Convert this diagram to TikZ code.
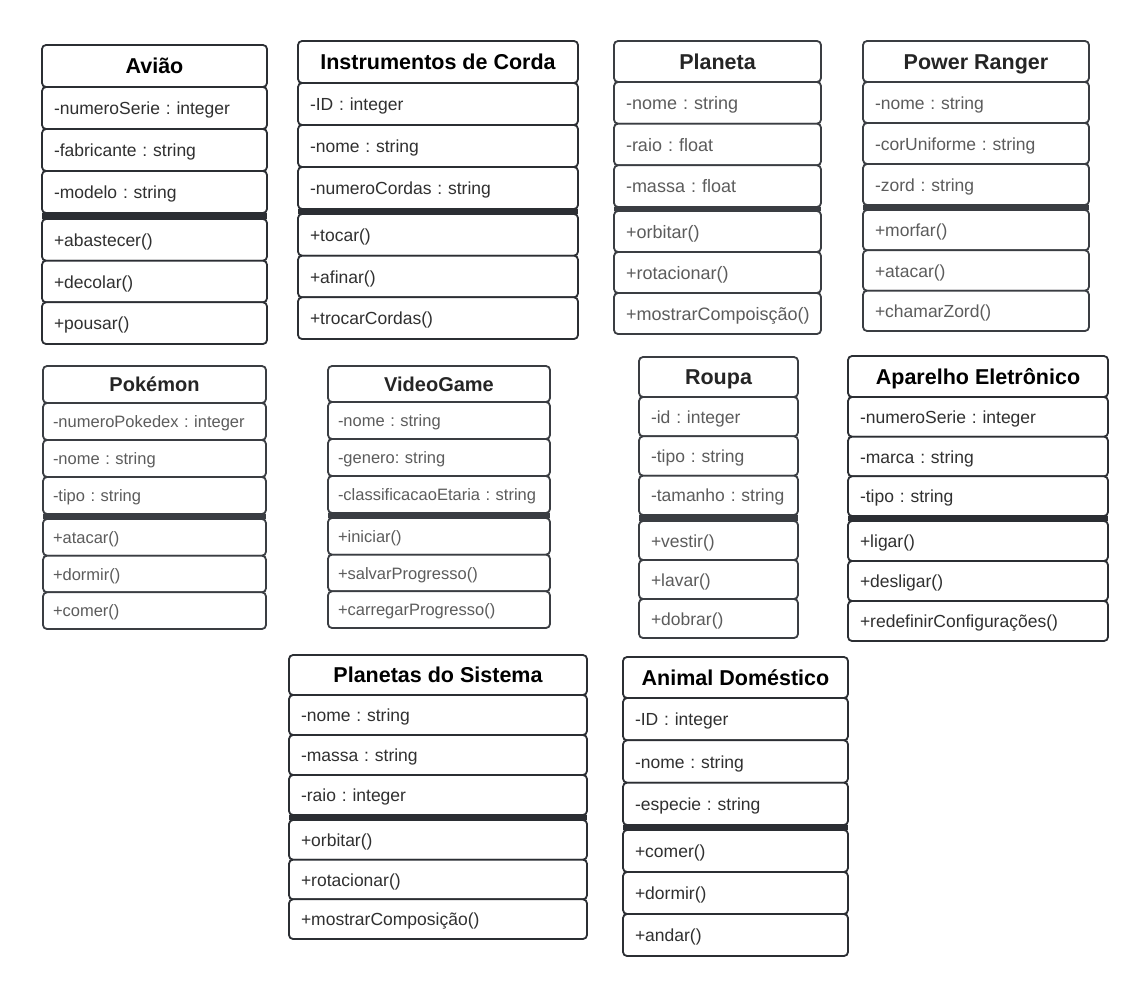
\documentclass[tikz,border=0pt]{standalone}
\usepackage{fontspec}
\setmainfont{Liberation Sans}
\frenchspacing
\definecolor{linecol}{HTML}{2B2E33}
\definecolor{softline}{HTML}{3A3D42}
\definecolor{titlecol}{HTML}{000000}
\definecolor{bodycol}{HTML}{303030}
\definecolor{softtitle}{HTML}{252525}
\definecolor{softbody}{HTML}{5C5C5C}
\def\uxsep{12}
\def\umlgeo#1,#2,#3,#4,#5,#6,#7\relax{\def\uxa{#1}\def\uxb{#2}\def\uya{#3}\def\uyb{#4}\def\uyc{#5}\def\uyd{#6}\def\uye{#7}}
\newcommand\umlbox[9]{%
  \umlgeo#2\relax
  \pgfmathsetmacro\uw{\uxb-\uxa}%
  \pgfmathsetmacro\uht{\uyb-\uya}%
  \pgfmathsetmacro\uhr{(\uyc-\uyb)/3}%
  \pgfmathsetmacro\uhm{(\uye-\uyd)/3}%
  \pgfmathsetmacro\utw{\uw-2*\uxsep}%
  \node[titlecell, minimum width=\uw pt, minimum height=\uht pt] (#1-t) at (\uxa,\uya) {#3};
  \node[bodycell, minimum width=\uw pt, minimum height=\uhr pt, text width=\utw pt, inner xsep=\uxsep pt] (#1-a1) at (\uxa,\uyb) {\mbox{#4}};
  \node[bodycell, minimum width=\uw pt, minimum height=\uhr pt, text width=\utw pt, inner xsep=\uxsep pt] (#1-a2) at ({\uxa},{\uyb+\uhr}) {\mbox{#5}};
  \node[bodycell, minimum width=\uw pt, minimum height=\uhr pt, text width=\utw pt, inner xsep=\uxsep pt] (#1-a3) at ({\uxa},{\uyb+2*\uhr}) {\mbox{#6}};
  \node[bodycell, minimum width=\uw pt, minimum height=\uhm pt, text width=\utw pt, inner xsep=\uxsep pt] (#1-m1) at (\uxa,\uyd) {\mbox{#7}};
  \node[bodycell, minimum width=\uw pt, minimum height=\uhm pt, text width=\utw pt, inner xsep=\uxsep pt] (#1-m2) at ({\uxa},{\uyd+\uhm}) {\mbox{#8}};
  \node[bodycell, minimum width=\uw pt, minimum height=\uhm pt, text width=\utw pt, inner xsep=\uxsep pt] (#1-m3) at ({\uxa},{\uyd+2*\uhm}) {\mbox{#9}};
  \fill[sepcol] (#1-a3.south west) rectangle (#1-m1.north east);
}
\tikzset{
  classrow/.style={rectangle, draw=linecol, line width=1.8pt, rounded corners=4pt, fill=white,
    anchor=north west, inner ysep=0pt, outer sep=0pt},
  titlecell/.style={classrow, font=\fontsize{21.5}{24}\selectfont\bfseries, text=titlecol, align=center,
    text height=20pt, text depth=4.5pt},
  bodycell/.style={classrow, font=\fontsize{17.5}{20}\selectfont, text=bodycol, align=left,
    text height=17pt, text depth=4pt},
  sepcol/.style={fill=linecol},
  soft/.style={
    classrow/.append style={draw=softline},
    titlecell/.append style={text=softtitle},
    bodycell/.append style={text=softbody},
    sepcol/.style={fill=softline}},
}
\begin{document}
\begin{tikzpicture}[x=1pt,y=-1pt]
\path[use as bounding box, fill=white] (0,0) rectangle (1148,996);

\umlbox{aviao}{42,267,45,87,213,219,344}{Avião}{-numeroSerie : integer}{-fabricante : string}{-modelo : string}{+abastecer()}{+decolar()}{+pousar()}

\umlbox{corda}{298,578,41,83,209,214,339}{Instrumentos de Corda}{-ID : integer}{-nome : string}{-numeroCordas : string}{+tocar()}{+afinar()}{+trocarCordas()}

\begin{scope}[soft, bodycell/.append style={font=\fontsize{18}{20}\selectfont}]
\umlbox{planeta}{614,821,41,82,207,211,334}{Planeta}{-nome : string}{-raio : float}{-massa : float}{+orbitar()}{+rotacionar()}{+mostrarCompoisção()}
\end{scope}

\begin{scope}[soft, bodycell/.append style={font=\fontsize{17.5}{20}\selectfont}]
\umlbox{ranger}{863,1089,41,82,205,210,331}{Power Ranger}{-nome : string}{-corUniforme : string}{-zord : string}{+morfar()}{+atacar()}{+chamarZord()}
\end{scope}

\begin{scope}[soft, titlecell/.append style={font=\fontsize{20}{22}\selectfont\bfseries, text height=19pt},
  bodycell/.append style={font=\fontsize{16.5}{19}\selectfont, text height=16pt, text depth=3.5pt}]
\def\uxsep{10}
\umlbox{pokemon}{43,266,366,403,514,519,629}{Pokémon}{-numeroPokedex : integer}{-nome : string}{-tipo : string}{+atacar()}{+dormir()}{+comer()}
\umlbox{videogame}{328,550,366,402,513,518,628}{VideoGame}{-nome : string}{-genero: string}{-classificacaoEtaria : string}{+iniciar()}{+salvarProgresso()}{+carregarProgresso()}
\end{scope}

\begin{scope}[soft]
\umlbox{roupa}{639,798,357,397,515,521,638}{Roupa}{-id : integer}{-tipo : string}{-tamanho : string}{+vestir()}{+lavar()}{+dobrar()}
\end{scope}

\umlbox{aparelho}{848,1108,356,397,516,521,641}{Aparelho Eletrônico}{-numeroSerie : integer}{-marca : string}{-tipo : string}{+ligar()}{+desligar()}{+redefinirConfigurações()}

\umlbox{sistema}{289,587,655,695,815,820,939}{Planetas do Sistema}{-nome : string}{-massa : string}{-raio : integer}{+orbitar()}{+rotacionar()}{+mostrarComposição()}

\umlbox{animal}{623,848,657,698,825,830,956}{Animal Doméstico}{-ID : integer}{-nome : string}{-especie : string}{+comer()}{+dormir()}{+andar()}
\end{tikzpicture}
\end{document}
